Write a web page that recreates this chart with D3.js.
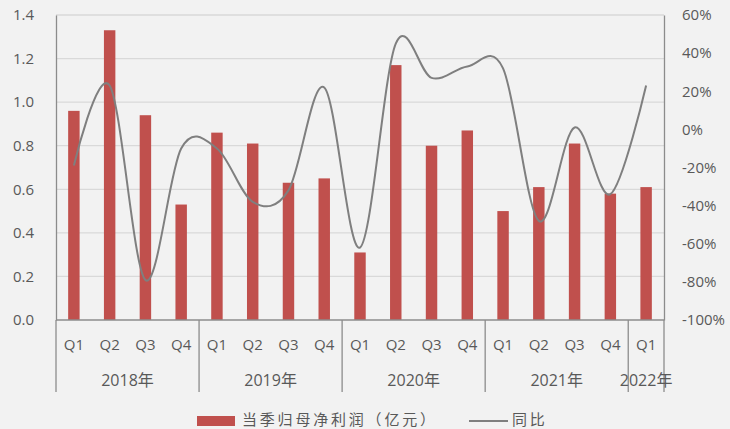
<!DOCTYPE html>
<html>
<head>
<meta charset="utf-8">
<script src="https://cdn.jsdelivr.net/npm/d3@7"></script>
<style>
  body { margin: 0; background: #f2f2f2; }
  svg { display: block; }
  text { font-family: "Open Sans", "Noto Sans CJK SC", sans-serif; fill: #595959; }
</style>
</head>
<body>
<div id="chart"></div>
<script>
const quarters = ["Q1", "Q2", "Q3", "Q4", "Q1", "Q2", "Q3", "Q4", "Q1", "Q2", "Q3", "Q4", "Q1", "Q2", "Q3", "Q4", "Q1"];
const years = ["2018年", "2019年", "2020年", "2021年", "2022年"];
const yearOf = [0, 0, 0, 0, 1, 1, 1, 1, 2, 2, 2, 2, 3, 3, 3, 3, 4];
const profit = [0.96, 1.33, 0.94, 0.53, 0.86, 0.81, 0.63, 0.65, 0.31, 1.17, 0.80, 0.87, 0.50, 0.61, 0.81, 0.58, 0.61];
const yoy = [-19, 23, -79, -10, -10, -38, -32, 22, -62, 45, 27, 33, 32, -48, 1, -34, 23];
const leftTicks = [0, 0.2, 0.4, 0.6, 0.8, 1.0, 1.2, 1.4];
const rightTicks = [-100, -80, -60, -40, -20, 0, 20, 40, 60];

const width = 730;
const height = 429;
const margin = { top: 15, left: 56, bottom: 109, right: 66 };
const iwidth = width - margin.left - margin.right;
const iheight = height - margin.top - margin.bottom;

const svg = d3.select("#chart").append("svg")
  .attr("width", width)
  .attr("height", height);

svg.append("rect").attr("width", width).attr("height", height).attr("fill", "#f2f2f2");

const g = svg.append("g").attr("transform", `translate(${margin.left},${margin.top})`);

const idx = quarters.map((d, i) => i);
const x = d3.scaleBand().domain(idx).range([0, iwidth]).padding(0);
const y = d3.scaleLinear().domain([0, 1.4]).range([iheight, 0]);
const y2 = d3.scaleLinear().domain([-100, 60]).range([iheight, 0]);

// gridlines
g.append("g").selectAll("line").data(leftTicks.filter(d => d > 0)).enter().append("line")
  .attr("x1", 0).attr("x2", iwidth)
  .attr("y1", d => y(d)).attr("y2", d => y(d))
  .attr("stroke", "#d9d9d9").attr("stroke-width", 1.3);

// left axis
const yAxis = g.append("g").call(d3.axisLeft(y).tickValues(leftTicks).tickFormat(d3.format(".1f")).tickSize(0).tickPadding(22));
yAxis.select(".domain").attr("stroke", "#8c8c8c").attr("stroke-width", 1.3);
yAxis.selectAll("text").style("font-size", "15px").attr("fill", "#595959");

// right axis
const y2Axis = g.append("g").attr("transform", `translate(${iwidth},0)`)
  .call(d3.axisRight(y2).tickValues(rightTicks).tickFormat(d => d + "%").tickSize(0).tickPadding(18));
y2Axis.select(".domain").attr("stroke", "#8c8c8c").attr("stroke-width", 1.3);
y2Axis.selectAll("text").style("font-size", "15px").attr("fill", "#595959");

// bars
const bw = x.bandwidth() * 0.32;
g.selectAll("rect.bar").data(profit).enter().append("rect")
  .attr("class", "bar")
  .attr("x", (d, i) => x(i) + (x.bandwidth() - bw) / 2)
  .attr("width", bw)
  .attr("y", d => y(d))
  .attr("height", d => iheight - y(d))
  .attr("fill", "#c0504d");

// yoy line
const line = d3.line()
  .x((d, i) => x(i) + x.bandwidth() / 2)
  .y(d => y2(d))
  .curve(d3.curveCardinal);
g.append("path").datum(yoy)
  .attr("d", line)
  .attr("fill", "none")
  .attr("stroke", "#7f7f7f")
  .attr("stroke-width", 2);

// category axis
const xg = g.append("g").attr("transform", `translate(0,${iheight})`);
xg.append("line").attr("x1", 0).attr("x2", iwidth).attr("stroke", "#8c8c8c").attr("stroke-width", 1.3);
xg.selectAll("text.q").data(quarters).enter().append("text")
  .attr("class", "q")
  .attr("x", (d, i) => x(i) + x.bandwidth() / 2)
  .attr("y", 30)
  .attr("text-anchor", "middle")
  .style("font-size", "15px")
  .text(d => d);

const yearStart = years.map((yr, k) => yearOf.indexOf(k));
const yearEnd = years.map((yr, k) => yearOf.lastIndexOf(k));
const seps = yearStart.map(i => x(i)).concat([iwidth]);
xg.selectAll("line.sep").data(seps).enter().append("line")
  .attr("class", "sep")
  .attr("x1", d => d).attr("x2", d => d)
  .attr("y1", 0).attr("y2", 72)
  .attr("stroke", "#8c8c8c").attr("stroke-width", 1.3);
xg.selectAll("text.yr").data(years).enter().append("text")
  .attr("class", "yr")
  .attr("x", (d, k) => (x(yearStart[k]) + x(yearEnd[k]) + x.bandwidth()) / 2)
  .attr("y", 66)
  .attr("text-anchor", "middle")
  .style("font-size", "16px")
  .text(d => d);

// legend
const lg = svg.append("g").attr("transform", "translate(197,420)");
lg.append("rect").attr("x", 0).attr("y", -4).attr("width", 38).attr("height", 10).attr("fill", "#c0504d");
lg.append("text").attr("x", 45).attr("y", 5).style("font-size", "15px").style("letter-spacing", "2.8px").text("当季归母净利润（亿元）");
lg.append("line").attr("x1", 272).attr("x2", 311).attr("y1", 1).attr("y2", 1).attr("stroke", "#7f7f7f").attr("stroke-width", 2);
lg.append("text").attr("x", 315).attr("y", 5).style("font-size", "15px").style("letter-spacing", "2.8px").text("同比");
</script>
</body>
</html>
